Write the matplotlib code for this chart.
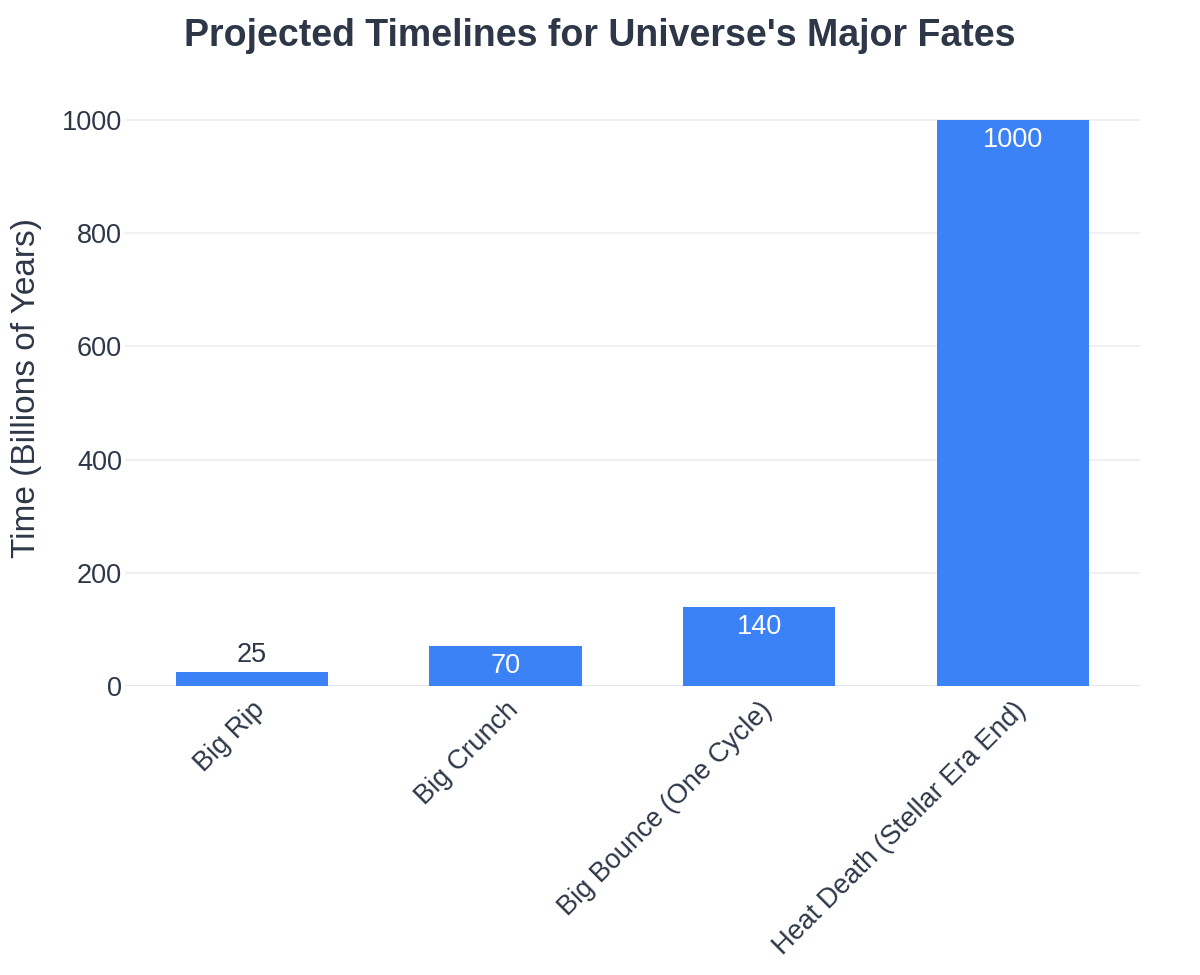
import matplotlib.pyplot as plt
import numpy as np

plt.rcParams['font.family'] = ['Liberation Sans', 'DejaVu Sans']

fates = ['Big Rip', 'Big Crunch', 'Big Bounce (One Cycle)', 'Heat Death (Stellar Era End)']
years = [25, 70, 140, 1000]
yticks = [0, 200, 400, 600, 800, 1000]

TEXT = '#2d3748'
BAR = '#3b82f6'
GRID = '#eceef2'

fig = plt.figure(figsize=(12, 9.75), dpi=100)
ax = fig.add_axes([0.104, 0.2964, 0.846, 0.6113])

x = np.arange(len(fates))
bars = ax.bar(x, years, width=0.6, color=BAR, zorder=3)

ymax = max(years) * 1.0526
ax.set_ylim(0, ymax)
ax.set_xlim(-0.5, len(fates) - 0.5)

for b, v in zip(bars, years):
    h = b.get_height()
    cx = b.get_x() + b.get_width() / 2
    # label inside the bar top if it fits, otherwise above
    if h / ymax > 0.05:
        ax.annotate(f'{v}', (cx, h), xytext=(0, -5), textcoords='offset points',
                    ha='center', va='top', fontsize=19.5, color='white', zorder=4)
    else:
        ax.annotate(f'{v}', (cx, h), xytext=(0, 3), textcoords='offset points',
                    ha='center', va='bottom', fontsize=19.5, color=TEXT, zorder=4)

ax.set_yticks(yticks)
ax.set_yticklabels([str(t) for t in yticks], fontsize=19.5, color=TEXT)
ax.set_xticks(x)
ax.set_xticklabels(fates, rotation=45, ha='right', rotation_mode='anchor',
                   fontsize=19.5, color=TEXT)
ax.tick_params(axis='both', length=0)
ax.tick_params(axis='y', pad=2)
ax.tick_params(axis='x', pad=8)

ax.grid(axis='y', color=GRID, linewidth=1.2, zorder=0)
ax.axhline(0, color='#e2e5f0', linewidth=2, zorder=2)
for s in ax.spines.values():
    s.set_visible(False)

ax.set_ylabel('Time (Billions of Years)', fontsize=24, color=TEXT, labelpad=14)
fig.suptitle("Projected Timelines for Universe's Major Fates", x=0.5, y=0.982,
             fontsize=27, fontweight='bold', color=TEXT)

fig.savefig('out.png', dpi=100)
